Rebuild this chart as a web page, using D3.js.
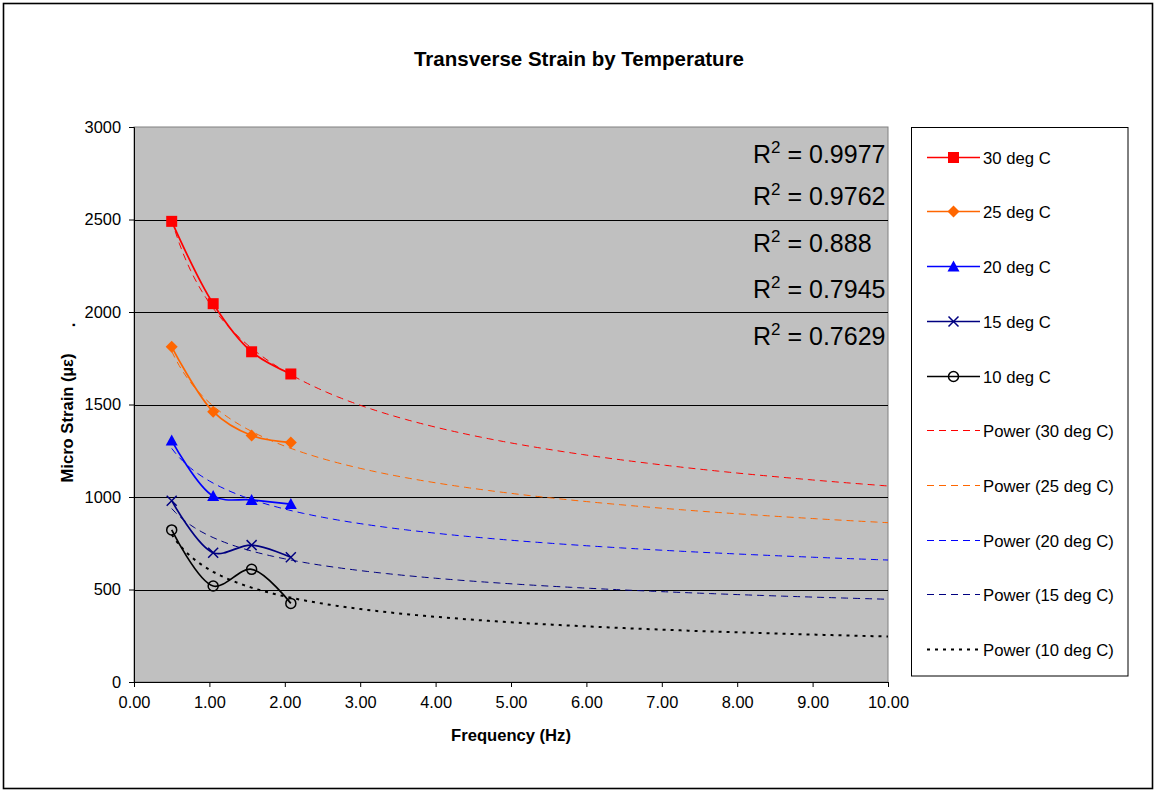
<!DOCTYPE html>
<html>
<head>
<meta charset="utf-8">
<script src="https://cdn.jsdelivr.net/npm/d3@7"></script>
<style>
  html, body { margin: 0; padding: 0; background: #ffffff; }
  svg { display: block; font-family: "Liberation Sans", Arial, sans-serif; }
</style>
</head>
<body>
<svg id="chart" width="1155" height="790"></svg>
<script>
// Measured strain at each loading frequency, one array per temperature
const frequencies = [0.5, 1.05, 1.56, 2.08];
const strain30 = [2490, 2045, 1785, 1665];
const strain25 = [1812, 1461, 1332, 1294];
const strain20 = [1305, 1005, 984, 962];
const strain15 = [980, 699, 740, 674];
const strain10 = [822, 519, 609, 425];

const seriesNames = ["30 deg C", "25 deg C", "20 deg C", "15 deg C", "10 deg C"];
const r2Labels = ["0.9977", "0.9762", "0.888", "0.7945", "0.7629"];
const xTicks = [0, 1, 2, 3, 4, 5, 6, 7, 8, 9, 10];
const yTicks = [0, 500, 1000, 1500, 2000, 2500, 3000];

const series = [
  { name: seriesNames[0], values: strain30, color: "#ff0000", trendColor: "#ff0000", marker: "square" },
  { name: seriesNames[1], values: strain25, color: "#ff6600", trendColor: "#ff6600", marker: "diamond" },
  { name: seriesNames[2], values: strain20, color: "#0000ff", trendColor: "#0000ff", marker: "triangle" },
  { name: seriesNames[3], values: strain15, color: "#000080", trendColor: "#000080", marker: "cross" },
  { name: seriesNames[4], values: strain10, color: "#000000", trendColor: "#000000", marker: "circle" }
];

const svg = d3.select("#chart");
const font = "'Liberation Sans', Arial, sans-serif";

// Chart area border
svg.append("rect")
  .attr("x", 3.5).attr("y", 3.5).attr("width", 1149).attr("height", 785)
  .attr("fill", "#ffffff").attr("stroke", "#000000").attr("stroke-width", 1.6);

const plot = { left: 134, right: 888, top: 127, bottom: 682 };
const x = d3.scaleLinear().domain([0, 10]).range([plot.left, plot.right]);
const y = d3.scaleLinear().domain([0, 3000]).range([plot.bottom, plot.top]);

// Plot background
svg.append("rect")
  .attr("x", plot.left).attr("y", plot.top)
  .attr("width", plot.right - plot.left).attr("height", plot.bottom - plot.top)
  .attr("fill", "#c0c0c0").attr("stroke", "#808080").attr("stroke-width", 1);

// Horizontal gridlines
svg.append("g")
  .selectAll("line")
  .data(yTicks.filter(d => d > 0 && d < 3000))
  .join("line")
  .attr("x1", plot.left).attr("x2", plot.right)
  .attr("y1", d => Math.round(y(d)) + 0.5).attr("y2", d => Math.round(y(d)) + 0.5)
  .attr("stroke", "#000000").attr("stroke-width", 1);

// Axes
const xAxis = svg.append("g")
  .attr("transform", `translate(0,${plot.bottom})`)
  .call(d3.axisBottom(x).tickValues(xTicks).tickFormat(d3.format(".2f")).tickSizeOuter(0).tickSize(5).tickPadding(9));
const yAxis = svg.append("g")
  .attr("transform", `translate(${plot.left},0)`)
  .call(d3.axisLeft(y).tickValues(yTicks).tickFormat(d3.format("d")).tickSizeOuter(0).tickSize(5).tickPadding(8));
[xAxis, yAxis].forEach(g => {
  g.select(".domain").attr("stroke", "#000000").attr("stroke-width", 1);
  g.selectAll(".tick line").attr("stroke", "#000000");
  g.selectAll(".tick text").attr("font-family", font).attr("font-size", 16.4).attr("fill", "#000000");
});

// Power-law trendlines, least squares in log-log space
function powerFit(xs, ys) {
  const lx = xs.map(Math.log), ly = ys.map(Math.log);
  const mx = d3.mean(lx), my = d3.mean(ly);
  const b = d3.sum(lx, (v, i) => (v - mx) * (ly[i] - my)) / d3.sum(lx, v => (v - mx) * (v - mx));
  const a = Math.exp(my - b * mx);
  return t => a * Math.pow(t, b);
}
const trendX = d3.range(0.5, 10.0001, 0.05);
const trendLine = d3.line().x(d => x(d[0])).y(d => y(d[1]));
const trendG = svg.append("g");
series.forEach((s, i) => {
  const f = powerFit(frequencies, s.values);
  trendG.append("path")
    .attr("d", trendLine(trendX.map(t => [t, f(t)])))
    .attr("fill", "none")
    .attr("stroke", s.trendColor)
    .attr("stroke-width", i === 4 ? 2 : 1)
    .attr("stroke-dasharray", i === 4 ? "3,5" : "7,5");
});

// Smoothed data lines
const smooth = d3.line().x(d => x(d[0])).y(d => y(d[1])).curve(d3.curveCatmullRom.alpha(0.5));
series.forEach(s => {
  svg.append("path")
    .attr("d", smooth(frequencies.map((f, i) => [f, s.values[i]])))
    .attr("fill", "none").attr("stroke", s.color).attr("stroke-width", 1.7);
});

// Marker drawing
function drawMarker(g, type, cx, cy, color) {
  if (type === "square") {
    g.append("rect").attr("x", cx - 5.5).attr("y", cy - 5.5).attr("width", 11).attr("height", 11)
      .attr("fill", color);
  } else if (type === "diamond") {
    g.append("path").attr("d", `M${cx},${cy - 6}L${cx + 6},${cy}L${cx},${cy + 6}L${cx - 6},${cy}Z`)
      .attr("fill", color);
  } else if (type === "triangle") {
    g.append("path").attr("d", `M${cx},${cy - 6}L${cx + 6},${cy + 5}L${cx - 6},${cy + 5}Z`)
      .attr("fill", color);
  } else if (type === "cross") {
    g.append("path").attr("d", `M${cx - 5},${cy - 5}L${cx + 5},${cy + 5}M${cx - 5},${cy + 5}L${cx + 5},${cy - 5}`)
      .attr("stroke", color).attr("stroke-width", 1.5).attr("fill", "none");
  } else if (type === "circle") {
    g.append("circle").attr("cx", cx).attr("cy", cy).attr("r", 5)
      .attr("fill", "none").attr("stroke", color).attr("stroke-width", 1.5);
  }
}
const markerG = svg.append("g");
series.forEach(s => {
  frequencies.forEach((f, i) => drawMarker(markerG, s.marker, x(f), y(s.values[i]), s.color));
});

// R² annotations
const r2Baselines = [163, 205, 252, 298, 345];
r2Labels.forEach((v, i) => {
  const t = svg.append("text")
    .attr("x", 753).attr("y", r2Baselines[i])
    .attr("font-family", font).attr("font-size", 25).attr("fill", "#000000");
  t.append("tspan").text("R");
  t.append("tspan").attr("dy", -10).attr("font-size", 17).text("2");
  t.append("tspan").attr("dy", 10).text(" = " + v);
});

// Titles
svg.append("text")
  .attr("x", 579).attr("y", 66).attr("text-anchor", "middle")
  .attr("font-family", font).attr("font-size", 20.5).attr("font-weight", "bold")
  .text("Transverse Strain by Temperature");
svg.append("text")
  .attr("x", 511).attr("y", 741).attr("text-anchor", "middle")
  .attr("font-family", font).attr("font-size", 16.6).attr("font-weight", "bold")
  .text("Frequency (Hz)");
svg.append("text")
  .attr("transform", "translate(73,418) rotate(-90)").attr("text-anchor", "middle")
  .attr("font-family", font).attr("font-size", 16.6).attr("font-weight", "bold")
  .text("Micro Strain (µε)");
svg.append("text")
  .attr("transform", "translate(75,325) rotate(-90)").attr("text-anchor", "middle")
  .attr("font-family", font).attr("font-size", 16.6).attr("font-weight", "bold")
  .text(".");

// Legend
const legend = svg.append("g");
legend.append("rect")
  .attr("x", 911.5).attr("y", 127.5).attr("width", 216.5).attr("height", 548.5)
  .attr("fill", "#ffffff").attr("stroke", "#000000").attr("stroke-width", 1);
const legendRows = [
  ...series.map(s => ({ label: s.name, color: s.color, marker: s.marker, dash: null, width: 1.7 })),
  ...series.map((s, i) => ({ label: "Power (" + s.name + ")", color: s.trendColor, marker: null,
    dash: i === 4 ? "3,5" : "7,5", width: i === 4 ? 2 : 1 }))
];
legendRows.forEach((r, i) => {
  const cy = Math.round(156.7 + i * 54.7) + 0.5;
  const g = legend.append("g");
  g.append("line")
    .attr("x1", 927).attr("x2", 980).attr("y1", cy).attr("y2", cy)
    .attr("stroke", r.color).attr("stroke-width", r.width)
    .attr("stroke-dasharray", r.dash);
  if (r.marker) drawMarker(g, r.marker, 953.5, cy, r.color);
  g.append("text")
    .attr("x", 983).attr("y", cy + 6)
    .attr("font-family", font).attr("font-size", 16.7).attr("fill", "#000000")
    .text(r.label);
});
</script>
</body>
</html>
